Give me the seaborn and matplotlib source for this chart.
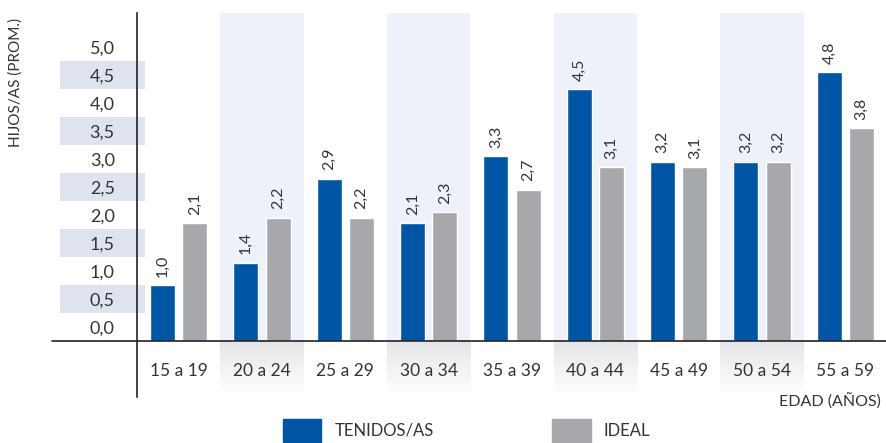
import numpy as np
import pandas as pd
import matplotlib
matplotlib.use("Agg")
import matplotlib.pyplot as plt
from matplotlib.patches import Rectangle, Patch
from matplotlib.colors import LinearSegmentedColormap
import seaborn as sns

# data
CATEGORIAS = ["15 a 19", "20 a 24", "25 a 29", "30 a 34", "35 a 39",
              "40 a 44", "45 a 49", "50 a 54", "55 a 59"]
TENIDOS = [1.0, 1.4, 2.9, 2.1, 3.3, 4.5, 3.2, 3.2, 4.8]
IDEAL = [2.1, 2.2, 2.2, 2.3, 2.7, 3.1, 3.1, 3.2, 3.8]
SERIES = ["TENIDOS/AS", "IDEAL"]
Y_LABELS = ["0,0", "0,5", "1,0", "1,5", "2,0", "2,5", "3,0", "3,5", "4,0", "4,5", "5,0"]

# styles
BLUE = "#0055a4"
GRAY = "#a7a8ac"
TEXT = "#333333"
BAND_Y = "#dfe3f0"
BAND_X = "#eef1f9"

sns.set_style("white")
plt.rcParams["font.family"] = ["Lato", "DejaVu Sans"]

df = pd.DataFrame({
    "edad": CATEGORIAS * 2,
    "serie": [SERIES[0]] * len(CATEGORIAS) + [SERIES[1]] * len(CATEGORIAS),
    "valor": TENIDOS + IDEAL,
})

fig = plt.figure(figsize=(8.87, 4.43), dpi=100)
ax = fig.add_axes([137 / 887, 46 / 443, 750 / 887, 384 / 443])

n = len(CATEGORIAS)
y_top = 5.857
y_bot = -1.0

# alternating column bands (above and below the axis)
grad = LinearSegmentedColormap.from_list("g", ["#e4e5e8", "#ffffff"])
for i in range(1, n, 2):
    ax.axvspan(i - 0.5, i + 0.5, ymin=(0 - y_bot) / (y_top - y_bot), ymax=1,
               color=BAND_X, lw=0, zorder=0)
    ax.imshow(np.linspace(0, 1, 50).reshape(-1, 1), cmap=grad, aspect="auto",
              extent=[i - 0.5, i + 0.5, -0.97, 0], zorder=0, interpolation="bilinear")

sns.barplot(data=df, x="edad", y="valor", hue="serie", palette=[BLUE, GRAY],
            width=0.77, gap=0.22, saturation=1, legend=False, ax=ax, zorder=2)

for cont in ax.containers:
    ax.bar_label(cont, labels=[f"{v:.1f}".replace(".", ",") for v in cont.datavalues],
                 rotation=90, padding=6, fontsize=11.5, color=TEXT)

ax.set_xlim(-0.5, n - 0.5)
ax.set_ylim(y_bot, y_top)

# y labels sit in the middle of each half-unit row
ytick_pos = [i * 0.5 + 0.25 for i in range(len(Y_LABELS))]
ax.set_yticks(ytick_pos)
ax.set_yticklabels(Y_LABELS, fontsize=13, color=TEXT)
ax.tick_params(axis="y", length=0, pad=16)
ax.set_xticks([])
ax.set_xlabel("")
ax.set_ylabel("")

# shaded rows behind the y labels
trans = ax.get_yaxis_transform()
for i in range(1, len(Y_LABELS), 2):
    ax.add_patch(Rectangle((-0.1027, i * 0.5), 0.1133, 0.5, transform=trans,
                           color=BAND_Y, lw=0, clip_on=False, zorder=0))

for s in ["top", "right", "bottom"]:
    ax.spines[s].set_visible(False)
ax.spines["left"].set_color("#222222")
ax.spines["left"].set_linewidth(1.2)
ax.spines["left"].set_zorder(3)

# baseline, extends left into the label area
ax.plot([-0.113, 1], [0, 0], transform=trans, color="#222222", lw=1.2,
        clip_on=False, zorder=3)

# category labels
for i, c in enumerate(CATEGORIAS):
    ax.text(i, -0.53, c, ha="center", va="center", fontsize=12.5, color=TEXT)

fig.text(16 / 887, 1 - 82 / 443, "HIJOS/AS (PROM.)", rotation=90, ha="center",
         va="center", fontsize=11, color=TEXT)
fig.text(881 / 887, 1 - 402 / 443, "EDAD (AÑOS)", ha="right", va="center",
         fontsize=11.5, color=TEXT)

handles = [Patch(color=BLUE, label=SERIES[0]), Patch(color=GRAY, label=SERIES[1])]
fig.legend(handles=handles, loc="upper left", bbox_to_anchor=(283 / 887, 1 - 419 / 443),
           ncol=2, frameon=False, fontsize=12, handlelength=2.3, handleheight=1.7,
           handletextpad=0.8, columnspacing=7.1, borderpad=0, borderaxespad=0,
           labelcolor=TEXT)

fig.savefig("out.png", dpi=100)
